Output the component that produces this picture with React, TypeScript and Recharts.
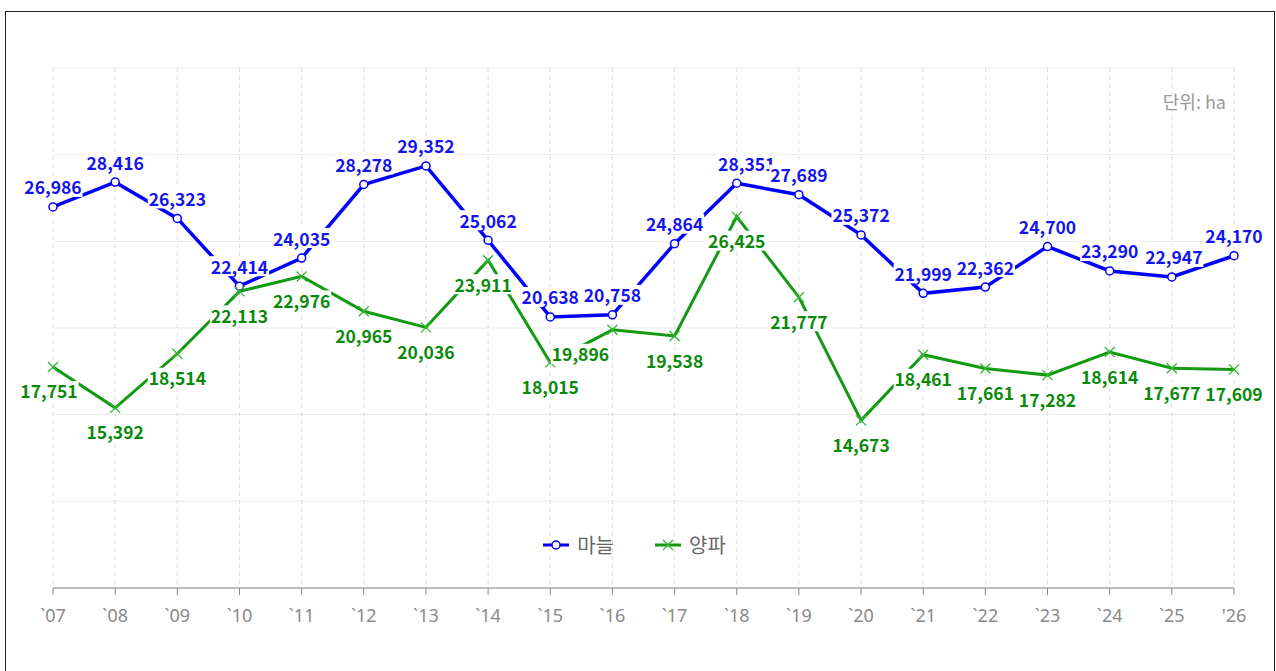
import React from "react";
import { LineChart, Line, XAxis, YAxis, CartesianGrid, LabelList } from "recharts";

const years = ["`07", "`08", "`09", "`10", "`11", "`12", "`13", "`14", "`15", "`16", "`17", "`18", "`19", "`20", "`21", "`22", "`23", "`24", "`25", "'26"];
const garlic = [26986, 28416, 26323, 22414, 24035, 28278, 29352, 25062, 20638, 20758, 24864, 28351, 27689, 25372, 21999, 22362, 24700, 23290, 22947, 24170];
const onion = [17751, 15392, 18514, 22113, 22976, 20965, 20036, 23911, 18015, 19896, 19538, 26425, 21777, 14673, 18461, 17661, 17282, 18614, 17677, 17609];
const yTicks = [5000, 10000, 15000, 20000, 25000, 30000, 35000];
const seriesNames = ["마늘", "양파"];
const unitLabel = "단위: ha";

const data = years.map((y, i) => ({ year: y, garlic: garlic[i], onion: onion[i] }));

const BLUE = "#0000ff";
const GREEN = "#139a13";
const GREEN_TEXT = "#0a8a0a";
const FONT = "'Noto Sans CJK KR', 'Noto Sans', sans-serif";
const TICK_FONT = "'Noto Sans', 'Noto Sans CJK KR', sans-serif";

const fmt = (v: number) => v.toLocaleString("en-US");

const makeLabel = (color: string, dyCenter: number, shifts: Record<number, number>) => (props: any) => {
  const { x, y, value, index } = props;
  if (x == null || y == null) return null;
  const text = fmt(Number(value));
  const w = text.length * 9.2 + 4;
  const cx = x + (shifts[index] || 0);
  const cy = y + dyCenter;
  return (
    <g>
      <rect x={cx - w / 2} y={cy - 10} width={w} height={20} fill="#fff" />
      <text x={cx} y={cy} textAnchor="middle" dominantBaseline="central" fill={color} fontSize={17.5} fontWeight={700} fontFamily={FONT}>
        {text}
      </text>
    </g>
  );
};

const CircleDot = (props: any) => {
  const { cx, cy } = props;
  if (cx == null || cy == null) return null;
  return <circle cx={cx} cy={cy} r={4} fill="#fff" stroke={BLUE} strokeWidth={1.5} />;
};

const XDot = (props: any) => {
  const { cx, cy } = props;
  if (cx == null || cy == null) return null;
  const s = 5;
  return (
    <g stroke="#33b833" strokeWidth={1.3}>
      <line x1={cx - s} y1={cy - s} x2={cx + s} y2={cy + s} />
      <line x1={cx - s} y1={cy + s} x2={cx + s} y2={cy - s} />
    </g>
  );
};

export default function App() {
  return (
    <div style={{ position: "absolute", left: 0, top: 0, width: 1276, height: 671, background: "#fff", overflow: "hidden" }}>
      <div style={{ position: "absolute", left: 5, top: 11, width: 1270, height: 700, border: "1.5px solid #222", boxSizing: "border-box" }} />
      <div style={{ position: "absolute", left: 0, top: 0 }}>
        <LineChart width={1276} height={671} data={data} margin={{ top: 68, right: 42, left: 53, bottom: 43 }}>
          <CartesianGrid horizontal={true} vertical={false} stroke="#ebebeb" />
          <CartesianGrid horizontal={false} vertical={true} stroke="#dcdcdc" strokeDasharray="4 4" />
          <XAxis
            dataKey="year"
            height={40}
            stroke="#888"
            tickSize={7}
            tickMargin={14}
            tick={{ fill: "#8a8a8a", fontSize: 18, fontFamily: TICK_FONT }}
            interval={0}
          />
          <YAxis hide domain={[5000, 35000]} ticks={yTicks} type="number" />
          <Line dataKey="garlic" name={seriesNames[0]} stroke={BLUE} strokeWidth={3.5} dot={<CircleDot />} activeDot={false} isAnimationActive={false} />
          <Line dataKey="onion" name={seriesNames[1]} stroke={GREEN} strokeWidth={3} dot={<XDot />} activeDot={false} isAnimationActive={false} />
          <Line dataKey="garlic" stroke="none" dot={false} activeDot={false} legendType="none" isAnimationActive={false}>
            <LabelList dataKey="garlic" content={makeLabel("#1414f0", -20, { 11: 10, 18: 2 })} />
          </Line>
          <Line dataKey="onion" stroke="none" dot={false} activeDot={false} legendType="none" isAnimationActive={false}>
            <LabelList dataKey="onion" content={makeLabel(GREEN_TEXT, 24, { 0: -4, 9: -32, 7: -5 })} />
          </Line>
        </LineChart>
      </div>
      <div style={{ position: "absolute", left: 1140, top: 88, width: 86, textAlign: "right", fontFamily: FONT, fontSize: 18, color: "#999" }}>
        {unitLabel}
      </div>
      <div style={{ position: "absolute", left: 0, top: 530, width: 1276, display: "flex", justifyContent: "center", alignItems: "center", fontFamily: FONT, fontSize: 20, color: "#666" }}>
        <div style={{ display: "flex", alignItems: "center", marginRight: 40, marginLeft: -8 }}>
          <svg width={28} height={14} style={{ marginRight: 7 }}>
            <line x1={1} y1={7} x2={27} y2={7} stroke={BLUE} strokeWidth={3} />
            <circle cx={14} cy={7} r={4} fill="#fff" stroke={BLUE} strokeWidth={1.5} />
          </svg>
          <span>{seriesNames[0]}</span>
        </div>
        <div style={{ display: "flex", alignItems: "center" }}>
          <svg width={28} height={14} style={{ marginRight: 7 }}>
            <line x1={1} y1={7} x2={27} y2={7} stroke={GREEN} strokeWidth={3} />
            <g stroke="#33b833" strokeWidth={1.3}>
              <line x1={9} y1={2} x2={19} y2={12} />
              <line x1={9} y1={12} x2={19} y2={2} />
            </g>
          </svg>
          <span>{seriesNames[1]}</span>
        </div>
      </div>
    </div>
  );
}
